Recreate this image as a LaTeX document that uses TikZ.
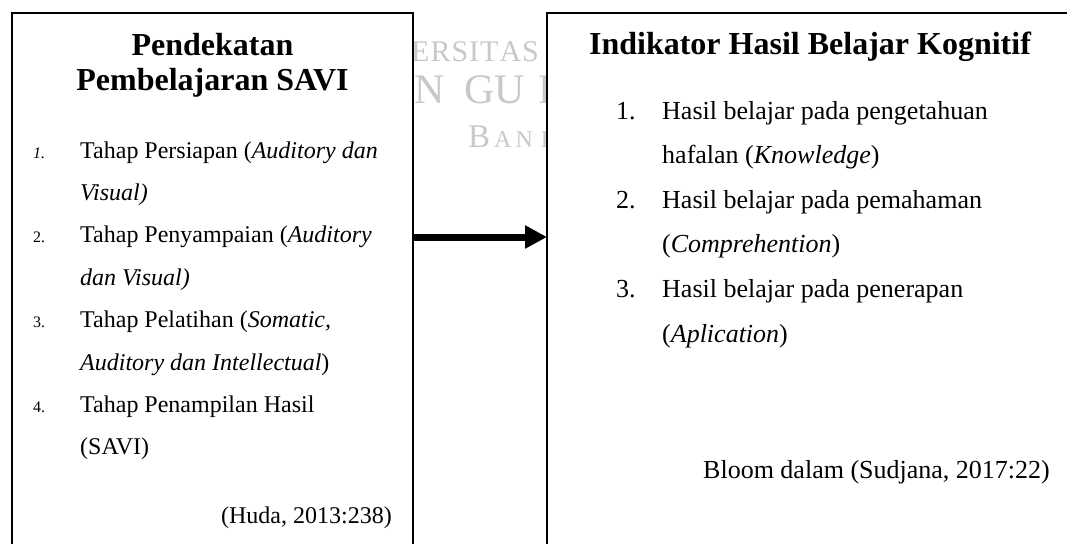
\documentclass[tikz,border=0pt]{standalone}
\usepackage{fontspec}
\setmainfont{Liberation Serif}
\usetikzlibrary{arrows.meta}
\usetikzlibrary{positioning}
\usetikzlibrary{matrix}

\definecolor{wmgray}{RGB}{200,200,200}
\newcommand\lbody{\fontsize{24}{28}\selectfont}
\newcommand\rbody{\fontsize{26}{30}\selectfont}
\newcommand\lnum{\fontsize{16}{18}\selectfont}

\tikzset{
  boxarea/.style={fill=white, draw=none, inner sep=0pt, anchor=north west},
  frameline/.style={line width=2pt},
  titletext/.style={font=\bfseries\fontsize{32}{35}\selectfont, align=center, inner sep=0pt},
  wmark/.style={text=wmgray, inner sep=0pt, anchor=base west},
  flowarrow/.style={line width=7pt, -{Triangle[length=22pt,width=22pt]}},
}

\begin{document}
\begin{tikzpicture}[x=1pt, y=-1pt]
\clip (0,0) rectangle (1067,543);
% watermark behind the boxes
\node[wmark, font=\fontsize{30}{30}\selectfont] (wm1) at (411,62) {E\kern1pt R\kern1pt S\kern1pt I\kern1pt T\kern1pt A\kern1pt S};
\node[wmark, font=\fontsize{42}{42}\selectfont] (wm2) at (414,103) {N\hspace{20pt}GU\hspace{13pt}R};
\node[wmark, font=\fontsize{33}{33}\selectfont] (wm3) at (468,147) {B{\fontsize{24}{24}\selectfont\,A\,N\hspace{8pt}D}};
% the two boxes
\node[boxarea, minimum width=401pt, minimum height=600pt] (savi) at (12,13) {};
\node[boxarea, minimum width=540pt, minimum height=600pt] (kog) at (547,13) {};
\draw[frameline] (savi.south west) -- (savi.north west) -- (savi.north east) -- (savi.south east);
\draw[frameline] (kog.south west) -- (kog.north west) -- (kog.north east);
% titles
\node[titletext, anchor=north] (tsavi) at (212.5,33) {Pendekatan\\Pembelajaran SAVI};
\node[titletext, anchor=base] (tkog) at (810,55) {Indikator Hasil Belajar Kognitif};
% left list
\matrix (savilist) [matrix of nodes, nodes={anchor=base west, inner sep=0pt, font=\lbody},
column sep={47pt,between origins}, row sep={42.4pt,between origins},
matrix anchor=savilist-1-1.base west] at (33,158)
{
|[font=\lnum]|\textit{1.} & Tahap Persiapan (\textit{Auditory dan} \\
 & \textit{Visual)} \\
|[font=\lnum]|2. & Tahap Penyampaian (\textit{Auditory} \\
 & \textit{dan Visual)} \\
|[font=\lnum]|3. & Tahap Pelatihan (\textit{Somatic,} \\
 & \textit{Auditory dan Intellectual}) \\
|[font=\lnum]|4. & Tahap Penampilan Hasil \\
 & (SAVI) \\
};
\node[anchor=base east, inner sep=0pt, font=\lbody] (huda) at (392,523) {(Huda, 2013:238)};
% right list
\matrix (koglist) [matrix of nodes, nodes={anchor=base west, inner sep=0pt, font=\rbody},
column sep={46pt,between origins}, row sep={44.6pt,between origins},
matrix anchor=koglist-1-1.base west] at (616,119)
{
1. & Hasil belajar pada pengetahuan \\
 & hafalan (\textit{Knowledge}) \\
2. & Hasil belajar pada pemahaman \\
 & (\textit{Comprehention}) \\
3. & Hasil belajar pada penerapan \\
 & (\textit{Aplication}) \\
};
\node[anchor=base east, inner sep=0pt, font=\rbody] (bloom) at (1050,478) {Bloom dalam (Sudjana, 2017:22)};
% connector
\coordinate (arrowy) at (0,237);
\draw[flowarrow] (savi.east |- arrowy) -- (kog.west |- arrowy);
\end{tikzpicture}
\end{document}
